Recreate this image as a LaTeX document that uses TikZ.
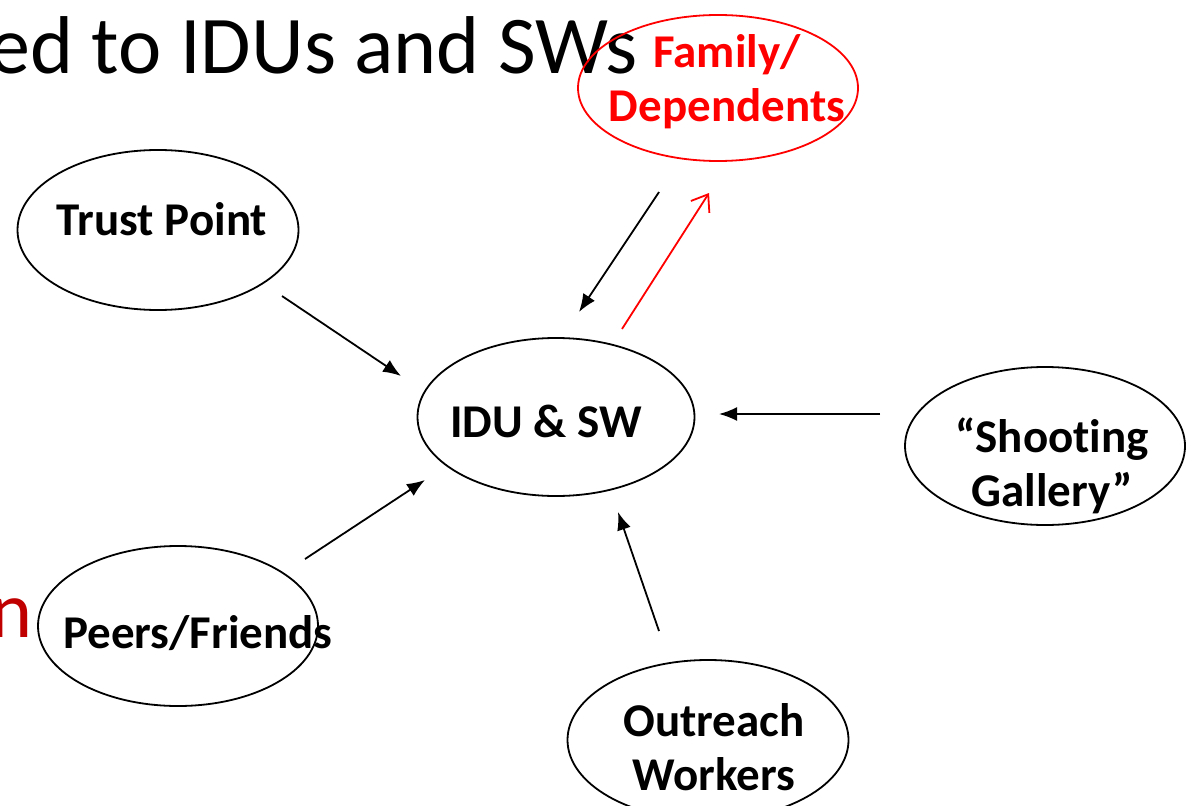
\documentclass[tikz,border=0pt]{standalone}
\usepackage{fontspec}
\setmainfont{Carlito}[Ligatures=NoCommon]
\usetikzlibrary{shapes.geometric,arrows.meta}
\definecolor{darkred}{HTML}{C00000}
\tikzset{
  bubble/.style={draw=black, line width=1.8pt, ellipse, inner sep=0pt},
  redbubble/.style={bubble, draw=red},
  lbl/.style={font=\bfseries\fontsize{47}{54}\selectfont, anchor=base, inner sep=0pt, align=center},
  arr/.style={draw=black, line width=1.8pt, -{Latex[length=18pt,width=14pt]}},
  redarr/.style={draw=red, line width=1.8pt, -{Straight Barb[length=15pt,width=22pt,line width=1.8pt]}}
}
\begin{document}
\begin{tikzpicture}[x=1pt,y=-1pt]
\useasboundingbox (0,0) rectangle (1190,805);
\fill[white] (0,0) rectangle (1190,805);

% title fragment and clipped red text
\node[anchor=base east, inner sep=0pt, font=\fontsize{82}{96}\selectfont] (title) at (638,74) {ed to IDUs and SWs};
\node[anchor=base east, inner sep=0pt, text=darkred, font=\fontsize{80}{96}\selectfont] (redn) at (33,637) {n};

% ellipses
\node[redbubble, minimum width=280pt, minimum height=146pt] (family) at (718,88) {};
\node[bubble, minimum width=281pt, minimum height=160pt] (trust) at (158,230) {};
\node[bubble, minimum width=277pt, minimum height=158pt] (idu) at (556,417) {};
\node[bubble, minimum width=280pt, minimum height=158pt] (shoot) at (1045,446) {};
\node[bubble, minimum width=280pt, minimum height=160pt] (peers) at (178,626) {};
\node[bubble, minimum width=281pt, minimum height=160pt] (outreach) at (708,740) {};

% labels (for two-line labels the base anchor is the last line's baseline)
\node[lbl, text=red] (familyL) at (727,122) {Family/\\Dependents};
\node[lbl] (trustL) at (162,235) {Trust Point};
\node[lbl] (iduL) at (546,437) {IDU \& SW};
\node[lbl] (shootL) at (1052,506) {“Shooting\\Gallery”};
\node[lbl] (peersL) at (198,648) {Peers/Friends};
\node[lbl] (outreachL) at (714,790) {Outreach\\Workers};

% connector end points
\coordinate (t1) at (282,296); \coordinate (t2) at (401,376);
\coordinate (p1) at (305,559); \coordinate (p2) at (425,480);
\coordinate (s1) at (880,414); \coordinate (s2) at (719,414);
\coordinate (o1) at (659,631); \coordinate (o2) at (618,512);
\coordinate (f1) at (659,192); \coordinate (f2) at (579,312);
\coordinate (r1) at (622,329); \coordinate (r2) at (709,193);

\draw[arr] (t1) -- (t2);
\draw[arr] (p1) -- (p2);
\draw[arr] (s1) -- (s2);
\draw[arr] (o1) -- (o2);
\draw[arr] (f1) -- (f2);
\draw[redarr] (r1) -- (r2);
\end{tikzpicture}
\end{document}
